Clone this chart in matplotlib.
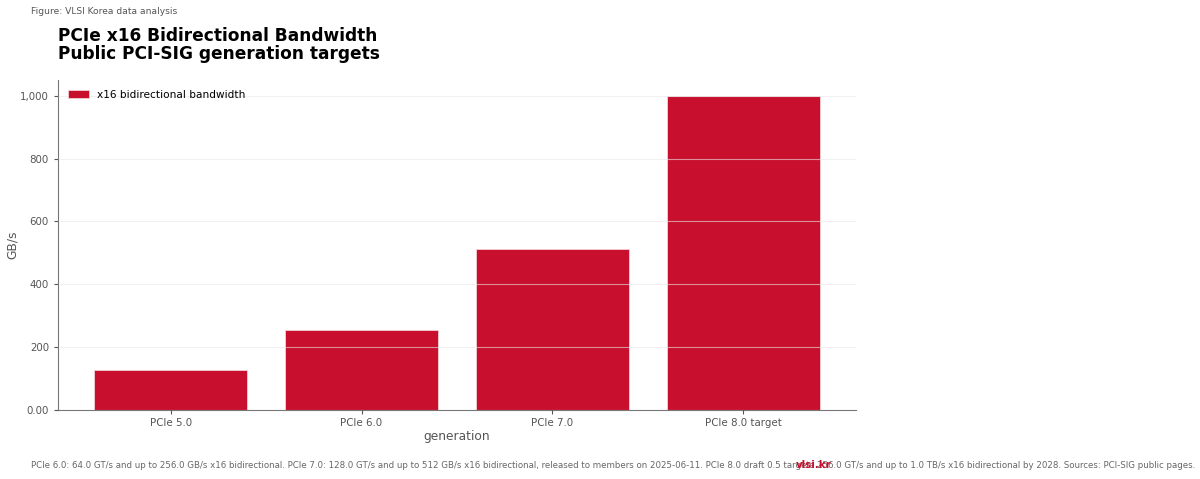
import matplotlib.pyplot as plt
import numpy as np

generations = ['PCIe 5.0', 'PCIe 6.0', 'PCIe 7.0', 'PCIe 8.0 target']
bandwidth = [128.0, 256.0, 512.0, 1000.0]   # GB/s, x16 bidirectional
yticks = [0, 200, 400, 600, 800, 1000]
yticklabels = ['0.00', '200', '400', '600', '800', '1,000']

RED = '#c8102e'
GREY = '#555555'

fig = plt.figure(figsize=(12, 4.79), dpi=100)
ax = fig.add_axes([58 / 1200, 1 - 410 / 479, 798 / 1200, 330 / 479])

x = np.arange(len(generations))
ax.bar(x, bandwidth, width=0.8, color=RED, edgecolor='#f2d0d5', linewidth=0.6,
       label='x16 bidirectional bandwidth', zorder=2)

ax.set_xticks(x)
ax.set_xticklabels(generations)
ax.set_yticks(yticks)
ax.set_yticklabels(yticklabels)
ax.set_ylim(0, 1050)

ax.grid(axis='y', color='#e6e6e6', linewidth=0.8, alpha=0.6, zorder=3)
ax.set_axisbelow(False)
for s in ['top', 'right']:
    ax.spines[s].set_visible(False)
for s in ['left', 'bottom']:
    ax.spines[s].set_color('#777777')
ax.tick_params(colors=GREY, labelsize=7.4, length=3)
ax.tick_params(axis='x', pad=3)

ax.set_xlabel('generation', color=GREY, fontsize=8.8, labelpad=1)
ax.set_ylabel('GB/s', color=GREY, fontsize=8.8, labelpad=1)

ax.legend(loc='upper left', frameon=False, fontsize=7.6)

fig.text(31 / 1200, 1 - 11 / 479, 'Figure: VLSI Korea data analysis',
         fontsize=6.55, color=GREY, va='center')
fig.text(58 / 1200, 1 - 45 / 479,
         'PCIe x16 Bidirectional Bandwidth\nPublic PCI-SIG generation targets',
         fontsize=12.25, fontweight='bold', va='center', linespacing=1.0)
fig.text(31 / 1200, 1 - 466 / 479,
         'PCIe 6.0: 64.0 GT/s and up to 256.0 GB/s x16 bidirectional. '
         'PCIe 7.0: 128.0 GT/s and up to 512 GB/s x16 bidirectional, released to members on 2025-06-11. '
         'PCIe 8.0 draft 0.5 targets 256.0 GT/s and up to 1.0 TB/s x16 bidirectional by 2028. '
         'Sources: PCI-SIG public pages.',
         fontsize=6.2, color='#666666', va='center')
fig.text(814 / 1200, 1 - 465 / 479, 'vlsi.kr', fontsize=7.4, fontweight='bold',
         color=RED, ha='center', va='center')

plt.savefig('out.png', dpi=100)
